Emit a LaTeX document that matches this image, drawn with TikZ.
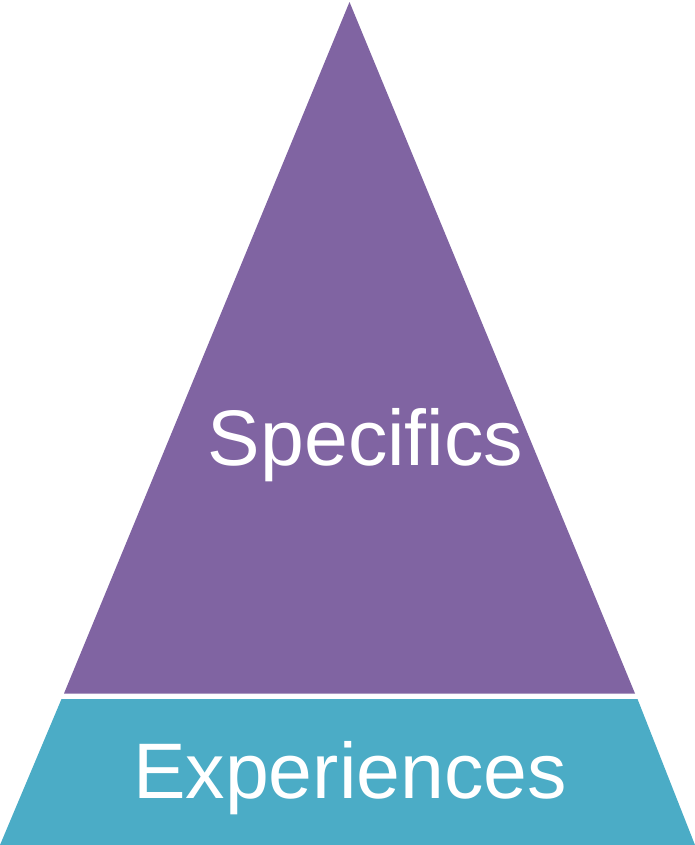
\documentclass[tikz,border=0pt]{standalone}
\usepackage{xcolor}
\usepackage{fontspec}
\setmainfont{Liberation Sans}
\usepackage{tikz}

\definecolor{levelpurple}{HTML}{8064A2}
\definecolor{levelteal}{HTML}{4BACC6}
\tikzset{
  leveltext/.style={text=white, anchor=base, inner sep=0pt, font=\fontsize{22.4}{26}\selectfont},
}

\begin{document}
\begin{tikzpicture}[x=0.01cm, y=-0.01cm]
\useasboundingbox (0,0) rectangle (695,845);
\fill[levelpurple] (349.5,2) -- (635,693.5) -- (64,693.5) -- cycle;
\fill[levelteal] (61.5,699) -- (637.5,699) -- (695,845) -- (0,845) -- cycle;
\node[leveltext] (specifics) at (365.5,465) {Specifics};
\node[leveltext] (experiences) at (350,798) {Experiences};
\end{tikzpicture}
\end{document}
